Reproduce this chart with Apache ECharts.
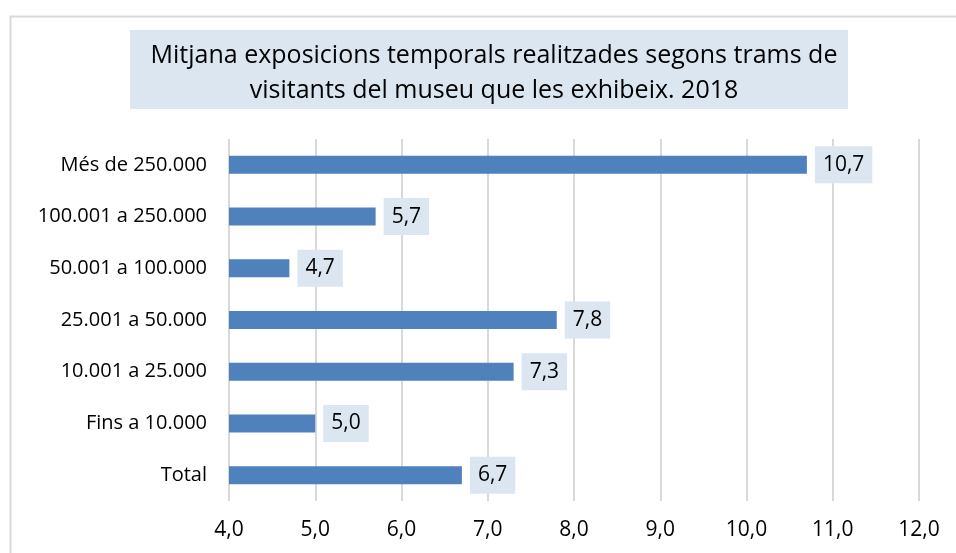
<!DOCTYPE html>
<html>
<head>
<meta charset="utf-8">
<script src="https://cdn.jsdelivr.net/npm/echarts@6/dist/echarts.min.js"></script>
<style>
  html, body { margin: 0; padding: 0; background: #fff; }
  #chart { width: 956px; height: 553px; }
</style>
</head>
<body>
<div id="chart"></div>
<script>
// trams de visitants (de baix a dalt, com a l'eix)
const categories = ['Total', 'Fins a 10.000', '10.001 a 25.000', '25.001 a 50.000',
  '50.001 a 100.000', '100.001 a 250.000', 'Més de 250.000'];
const values = [6.7, 5.0, 7.3, 7.8, 4.7, 5.7, 10.7];
const titleLines = ['Mitjana exposicions temporals realitzades segons trams de',
  'visitants del museu que les exhibeix. 2018'];

const FONT = '"Open Sans", "Noto Sans", sans-serif';
const fmt = v => v.toFixed(1).replace('.', ',');

const chart = echarts.init(document.getElementById('chart'));

chart.setOption({
  animation: false,
  textStyle: { fontFamily: FONT },
  graphic: [
    // marc del gràfic
    { type: 'rect', left: 8, top: 14, shape: { width: 980, height: 600 },
      style: { fill: 'none', stroke: '#d9d9d9', lineWidth: 2 }, silent: true },
    // caixa del títol
    { type: 'rect', left: 130, top: 30, shape: { width: 718, height: 79 },
      style: { fill: '#dce6f1' }, silent: true, z: 0 }
  ],
  title: {
    text: titleLines.join('\n'),
    left: 489,
    top: 33,
    textAlign: 'center',
    textStyle: { fontFamily: FONT, fontSize: 25, fontWeight: 'normal', color: '#000', lineHeight: 35 }
  },
  grid: { left: 229, right: 37, top: 139, bottom: 52, containLabel: false },
  xAxis: {
    type: 'value',
    min: 4, max: 12, interval: 1,
    axisLine: { show: false },
    axisTick: { show: false },
    axisLabel: { formatter: fmt, fontSize: 21, color: '#000', margin: 19, fontFamily: FONT },
    splitLine: { lineStyle: { color: '#d9d9d9', width: 2 } }
  },
  yAxis: {
    type: 'category',
    data: categories,
    axisLine: { show: false },
    axisTick: { show: false },
    axisLabel: { fontSize: 20, color: '#000', margin: 22, fontFamily: FONT }
  },
  series: [{
    type: 'bar',
    data: values,
    barWidth: 18,
    clip: true,
    itemStyle: { color: '#4f81bd' },
    label: {
      show: true,
      position: 'right',
      distance: 8,
      formatter: p => fmt(p.value),
      fontSize: 21,
      color: '#000',
      fontFamily: FONT,
      backgroundColor: '#dce6f1',
      padding: [8, 8]
    }
  }]
});
</script>
</body>
</html>
